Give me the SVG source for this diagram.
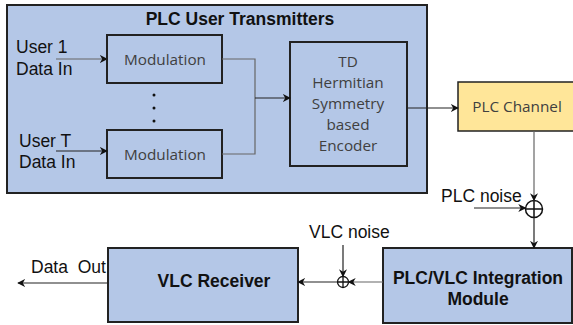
<svg xmlns="http://www.w3.org/2000/svg" width="573" height="325" viewBox="0 0 573 325">
<style>
.box{fill:#b4c7e7;stroke:#222;stroke-width:2}
.yel{fill:#ffe699;stroke:#222;stroke-width:1.5}
.lbl{font-family:"Liberation Sans",Arial,sans-serif;font-size:17.5px;fill:#111;white-space:pre}
.bold{font-family:"Liberation Sans",Arial,sans-serif;font-size:17.5px;font-weight:bold;fill:#111;text-anchor:middle}
.soft{font-family:"Open Sans","Noto Sans",sans-serif;font-size:15.3px;fill:#404040;text-anchor:middle}
.ln{fill:none;stroke:#222;stroke-width:1.2}
.gl{fill:none;stroke:#666;stroke-width:1.2}
</style>
<defs>
<marker id="ah" viewBox="0 0 10 10" refX="9" refY="5" markerWidth="8" markerHeight="8" markerUnits="userSpaceOnUse" orient="auto">
<path d="M0,0 L10,5 L0,10 L3,5 Z" fill="#111"/>
</marker>
</defs>
<g id="transmitters">
<rect class="box" x="7" y="5" width="420" height="188"/>
<text class="bold" x="240" y="25">PLC User Transmitters</text>
<text class="lbl" x="16" y="53">User 1</text>
<text class="lbl" x="16" y="75">Data In</text>
<text class="lbl" x="19" y="147">User T</text>
<text class="lbl" x="19" y="168">Data In</text>
<circle cx="154" cy="95" r="1.5" fill="#111"/>
<circle cx="154" cy="108" r="1.5" fill="#111"/>
<circle cx="154" cy="121" r="1.5" fill="#111"/>
</g>
<g id="mod1">
<rect class="box" x="107" y="35" width="115" height="48" stroke-width="1.5"/>
<text class="soft" x="165" y="65">Modulation</text>
</g>
<g id="mod2">
<rect class="box" x="107" y="130" width="115" height="48" stroke-width="1.5"/>
<text class="soft" x="165" y="160">Modulation</text>
</g>
<g id="encoder">
<rect class="box" x="290" y="42" width="117" height="124" stroke-width="1.5"/>
<text class="soft" x="348" y="67">TD</text>
<text class="soft" x="348" y="88">Hermitian</text>
<text class="soft" x="348" y="109">Symmetry</text>
<text class="soft" x="348" y="130">based</text>
<text class="soft" x="348" y="151">Encoder</text>
</g>
<g id="channel">
<rect class="yel" x="458" y="82" width="120" height="49"/>
<text class="soft" x="517" y="112">PLC Channel</text>
</g>
<g id="integration">
<rect class="box" x="383" y="248" width="189" height="75"/>
<text class="bold" x="478" y="284">PLC/VLC Integration</text>
<text class="bold" x="478" y="305">Module</text>
</g>
<g id="receiver">
<rect class="box" x="108" y="248" width="190" height="74"/>
<text class="bold" x="214" y="287">VLC Receiver</text>
</g>
<g id="plcsum">
<circle cx="534" cy="209" r="8.5" fill="#fff" stroke="#111" stroke-width="1.5"/>
<path d="M525.5,209 H542.5 M534,200.5 V217.5" stroke="#111" stroke-width="1.5"/>
<text class="lbl" x="441" y="202">PLC noise</text>
</g>
<g id="vlcsum">
<circle cx="343" cy="282" r="5.5" fill="none" stroke="#111" stroke-width="1.3"/>
<path d="M337.5,282 H348.5 M343,276.5 V287.5" stroke="#111" stroke-width="1.3"/>
<text class="lbl" x="309" y="238">VLC noise</text>
<text class="lbl" x="31" y="273" xml:space="preserve">Data  Out</text>
</g>
<g id="connectors">
<path class="gl" d="M56,59 H107" marker-end="url(#ah)"/>
<path class="ln" d="M56,151 H107" marker-end="url(#ah)"/>
<path class="gl" d="M222,59 H255 V154 H222"/>
<path class="ln" d="M255,98 H290" marker-end="url(#ah)"/>
<path class="ln" d="M407,108 H458" marker-end="url(#ah)"/>
<path class="gl" d="M534,131 V200.5" marker-end="url(#ah)"/>
<path class="ln" d="M474,208 H525.5" marker-end="url(#ah)"/>
<path class="ln" d="M534,217.5 V248" marker-end="url(#ah)"/>
<path class="gl" d="M383,282 H348.5" marker-end="url(#ah)"/>
<path class="ln" d="M343,245 V276.5" marker-end="url(#ah)"/>
<path class="ln" d="M337.5,282 H298" marker-end="url(#ah)"/>
<path class="ln" d="M108,283 H18" marker-end="url(#ah)"/>
</g>
</svg>
